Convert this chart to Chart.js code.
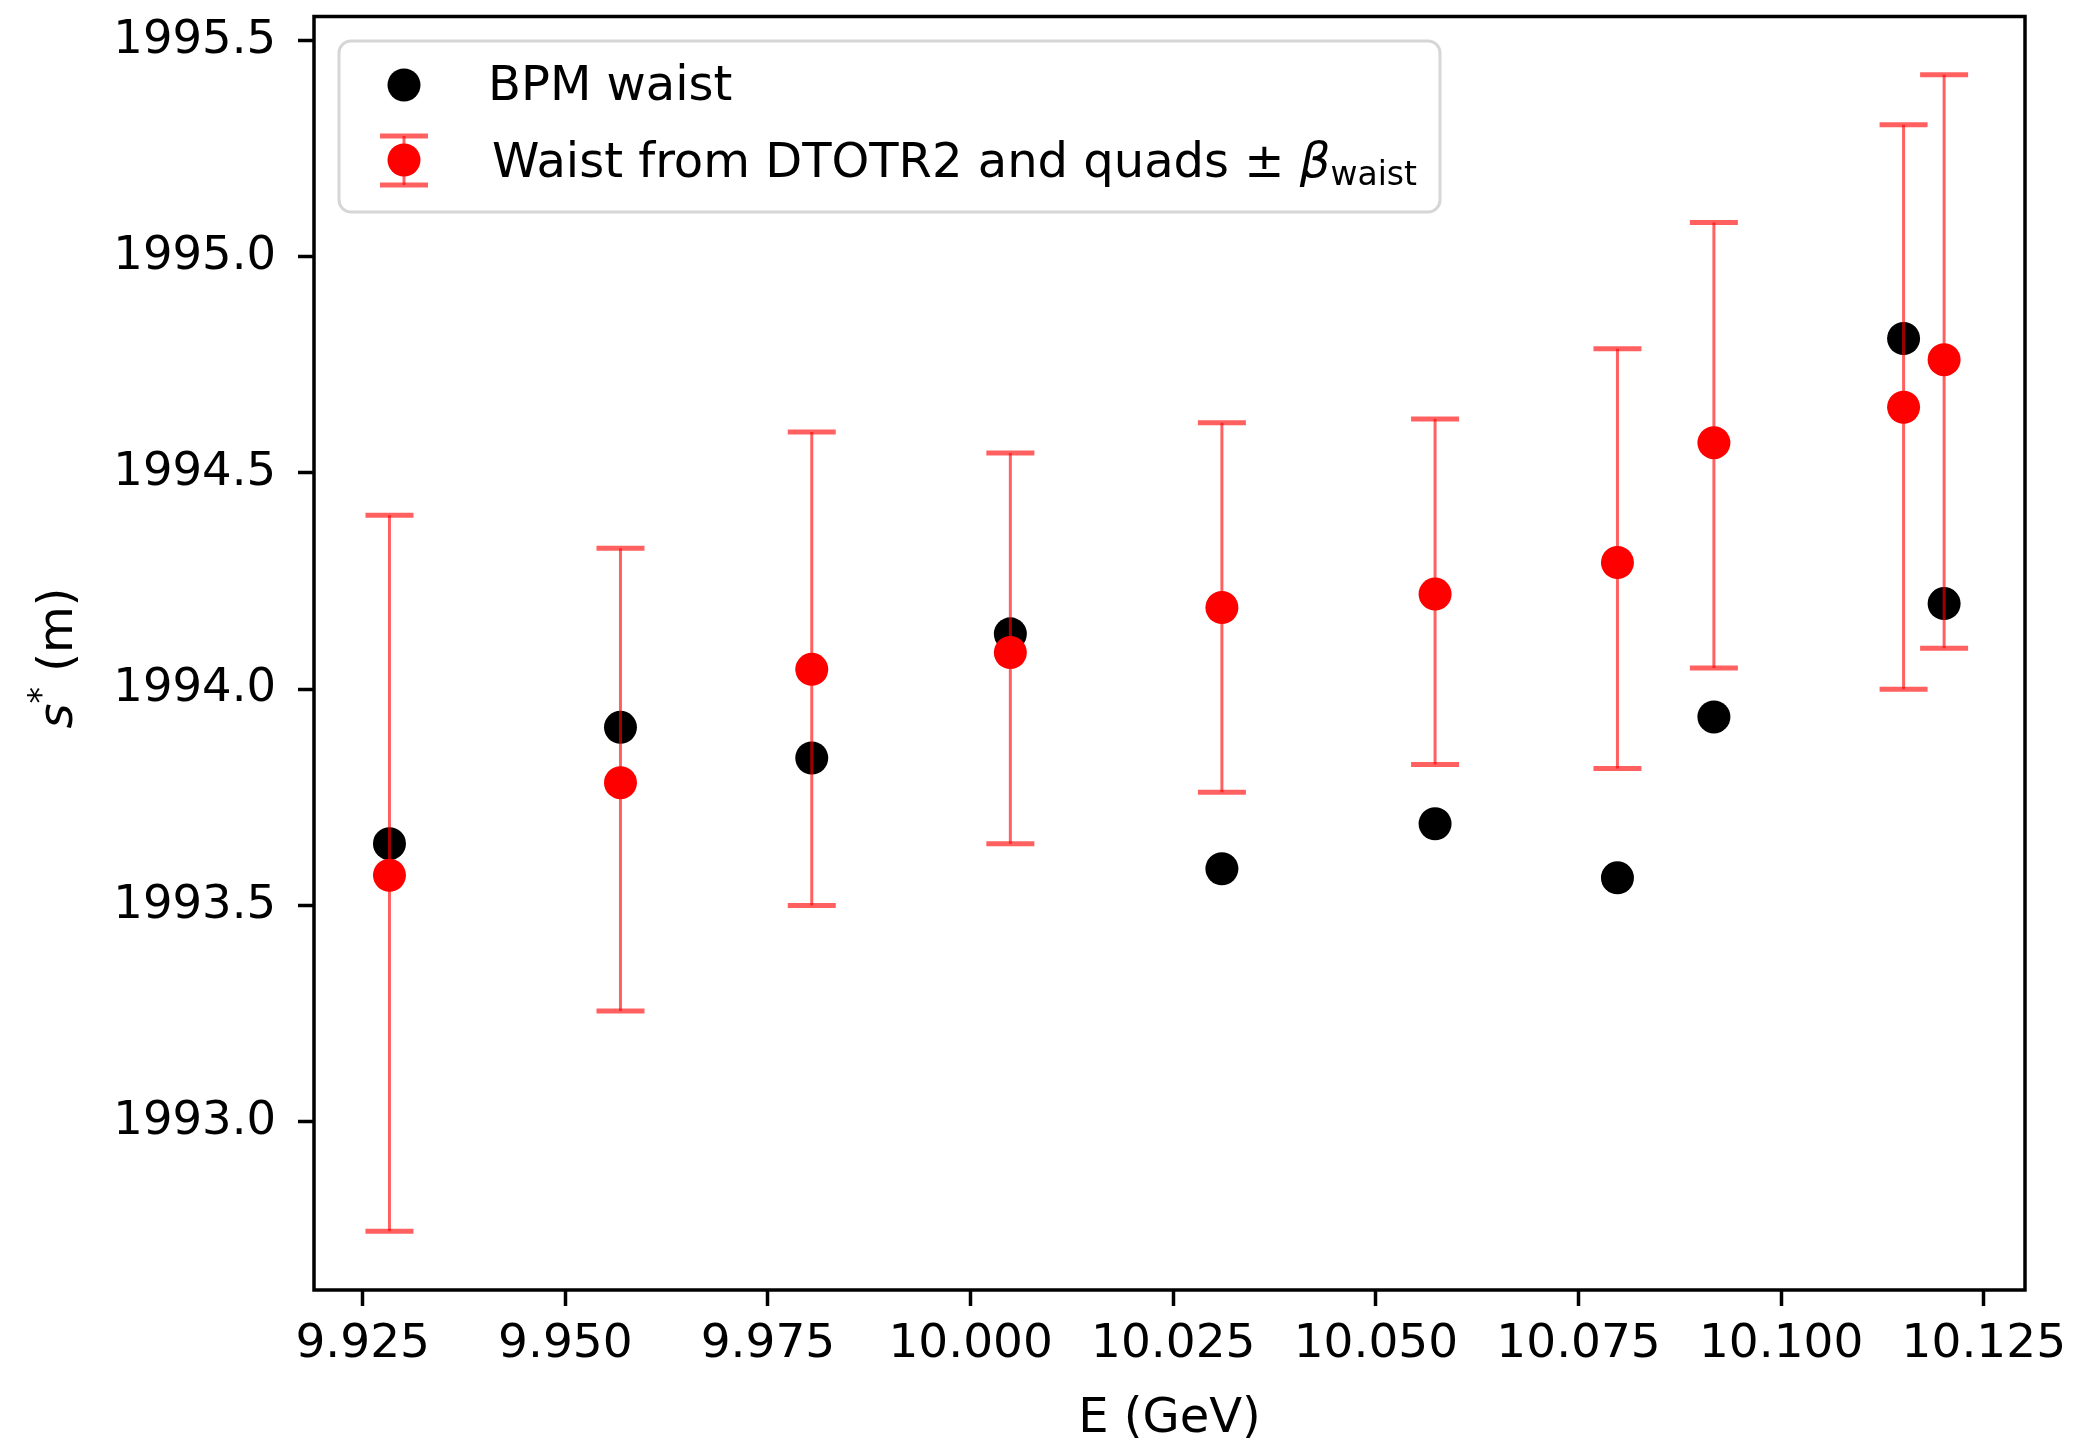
<!DOCTYPE html>
<html>
<head>
<meta charset="utf-8">
<title>Waist position vs energy</title>
<script src="https://cdn.jsdelivr.net/npm/chart.js@4.4.1/dist/chart.umd.min.js"></script>
<style>
  html, body { margin: 0; padding: 0; background: #fff; }
  #wrap { width: 2075px; height: 1441px; }
</style>
</head>
<body>
<div id="wrap"><canvas id="myChart" width="2075" height="1441"></canvas></div>
<script>
// beam energy (GeV)
const energy = [9.9283, 9.9568, 9.9804, 10.0049, 10.0310, 10.0573, 10.0798, 10.0917, 10.1151, 10.1201];
// waist position from BPMs (m)
const bpmWaist = [1993.643, 1993.912, 1993.841, 1994.128, 1993.585, 1993.689, 1993.564, 1993.936, 1994.811, 1994.198];
// waist position from DTOTR2 + quads (m) with +/- beta_waist
const quadWaist = [1993.570, 1993.784, 1994.046, 1994.085, 1994.189, 1994.220, 1994.293, 1994.570, 1994.652, 1994.762];
const quadUpper = [1994.402, 1994.326, 1994.595, 1994.546, 1994.616, 1994.625, 1994.787, 1995.079, 1995.305, 1995.421];
const quadLower = [1992.747, 1993.256, 1993.500, 1993.643, 1993.762, 1993.826, 1993.817, 1994.049, 1994.000, 1994.095];

const xTicks = [9.925, 9.950, 9.975, 10.000, 10.025, 10.050, 10.075, 10.100, 10.125];
const yTicks = [1993.0, 1993.5, 1994.0, 1994.5, 1995.0, 1995.5];

const FONT = '"DejaVu Sans", "Liberation Sans", sans-serif';
const errColor = 'rgba(255,0,0,0.62)';
const dotR = 16.5;

// draw a row of text pieces (for mathtext-ish labels)
function drawPieces(ctx, pieces, x, y) {
  let cx = x;
  for (const p of pieces) {
    ctx.font = p.font;
    ctx.fillText(p.text, cx, y + (p.dy || 0));
    cx += ctx.measureText(p.text).width;
  }
}

function piecesWidth(ctx, pieces) {
  let w = 0;
  for (const p of pieces) { ctx.font = p.font; w += ctx.measureText(p.text).width; }
  return w;
}

const extras = {
  id: 'extras',
  beforeDatasetDraw(chart, args) {
    if (args.meta.label !== 'quads') return;
    const ctx = chart.ctx;
    const xs = chart.scales.x, ys = chart.scales.y;
    ctx.save();
    ctx.strokeStyle = errColor;
    for (let i = 0; i < energy.length; i++) {
      const px = xs.getPixelForValue(energy[i]);
      const top = ys.getPixelForValue(quadUpper[i]);
      const bot = ys.getPixelForValue(quadLower[i]);
      ctx.lineWidth = 3;
      ctx.beginPath();
      ctx.moveTo(px, top);
      ctx.lineTo(px, bot);
      ctx.stroke();
      ctx.lineWidth = 5;
      ctx.beginPath();
      ctx.moveTo(px - 24, top); ctx.lineTo(px + 24, top);
      ctx.moveTo(px - 24, bot); ctx.lineTo(px + 24, bot);
      ctx.stroke();
    }
    ctx.restore();
  },
  afterDraw(chart) {
    const ctx = chart.ctx;
    const a = chart.chartArea;
    ctx.save();

    // frame
    ctx.strokeStyle = '#000';
    ctx.lineWidth = 3.5;
    ctx.strokeRect(a.left, a.top, a.right - a.left, a.bottom - a.top);

    ctx.fillStyle = '#000';
    ctx.textBaseline = 'alphabetic';

    // x title
    const xPieces = [{ text: 'E (GeV)', font: '48px ' + FONT }];
    drawPieces(ctx, xPieces, (a.left + a.right) / 2 - piecesWidth(ctx, xPieces) / 2, 1432);

    // y title: s* (m)
    ctx.save();
    ctx.translate(72, 658);
    ctx.rotate(-Math.PI / 2);
    const yPieces = [
      { text: 's', font: 'italic 48px ' + FONT },
      { text: '*', font: '33px ' + FONT, dy: -20 },
      { text: ' (m)', font: '48px ' + FONT }
    ];
    drawPieces(ctx, yPieces, -piecesWidth(ctx, yPieces) / 2, 0);
    ctx.restore();

    // legend box
    ctx.beginPath();
    ctx.roundRect(339, 41, 1101, 171, 12);
    ctx.fillStyle = 'rgba(255,255,255,0.8)';
    ctx.fill();
    ctx.strokeStyle = '#d6d6d6';
    ctx.lineWidth = 3;
    ctx.stroke();

    // legend entry 1
    ctx.fillStyle = '#000';
    ctx.beginPath();
    ctx.arc(404, 85, dotR, 0, Math.PI * 2);
    ctx.fill();
    ctx.font = '48px ' + FONT;
    ctx.fillText('BPM waist', 488, 100);

    // legend entry 2
    ctx.strokeStyle = errColor;
    ctx.lineWidth = 3;
    ctx.beginPath();
    ctx.moveTo(404, 136); ctx.lineTo(404, 185);
    ctx.stroke();
    ctx.lineWidth = 5;
    ctx.beginPath();
    ctx.moveTo(380, 136); ctx.lineTo(428, 136);
    ctx.moveTo(380, 185); ctx.lineTo(428, 185);
    ctx.stroke();
    ctx.fillStyle = '#ff0000';
    ctx.beginPath();
    ctx.arc(404, 160, dotR, 0, Math.PI * 2);
    ctx.fill();
    ctx.fillStyle = '#000';
    drawPieces(ctx, [
      { text: 'Waist from DTOTR2 and quads \u00b1 ', font: '48px ' + FONT },
      { text: '\u03b2', font: 'italic 48px ' + FONT },
      { text: 'waist', font: '33px ' + FONT, dy: 8 }
    ], 492, 177);

    ctx.restore();
  }
};

const ctx = document.getElementById('myChart').getContext('2d');
const chart = new Chart(ctx, {
  type: 'scatter',
  data: {
    datasets: [{
      label: 'bpm',
      data: energy.map((e, i) => ({ x: e, y: bpmWaist[i] })),
      backgroundColor: '#000000',
      borderWidth: 0,
      pointRadius: dotR,
      pointHoverRadius: dotR,
      order: 2
    },
    {
      label: 'quads',
      data: energy.map((e, i) => ({ x: e, y: quadWaist[i] })),
      backgroundColor: '#ff0000',
      borderWidth: 0,
      pointRadius: dotR,
      pointHoverRadius: dotR,
      order: 1
    }]
  },
  options: {
    responsive: false,
    animation: false,
    devicePixelRatio: 1,
    events: [],
    layout: { padding: { top: 16, right: 50, left: 0, bottom: 0 } },
    plugins: { legend: { display: false }, tooltip: { enabled: false } },
    scales: {
      x: {
        type: 'linear',
        min: 9.91899,
        max: 10.13008,
        afterBuildTicks: (s) => { s.ticks = xTicks.map(v => ({ value: v })); },
        afterFit: (s) => { s.height = 151; s.paddingLeft = 0; s.paddingRight = 0; },
        ticks: {
          callback: (v) => v.toFixed(3),
          font: { family: FONT, size: 47 },
          color: '#000',
          padding: 11,
          maxRotation: 0,
          autoSkip: false
        },
        grid: { drawOnChartArea: false, drawTicks: true, tickLength: 16, tickWidth: 3.5, tickColor: '#000' },
        border: { display: false }
      },
      y: {
        type: 'linear',
        min: 1992.611,
        max: 1995.5554,
        afterBuildTicks: (s) => { s.ticks = yTicks.map(v => ({ value: v })); },
        afterFit: (s) => { s.width = 314; s.paddingTop = 0; s.paddingBottom = 0; },
        ticks: {
          callback: (v) => v.toFixed(1),
          font: { family: FONT, size: 46.5 },
          color: '#000',
          padding: 22
        },
        grid: { drawOnChartArea: false, drawTicks: true, tickLength: 16, tickWidth: 3.5, tickColor: '#000' },
        border: { display: false }
      }
    }
  },
  plugins: [extras]
});
</script>
</body>
</html>
